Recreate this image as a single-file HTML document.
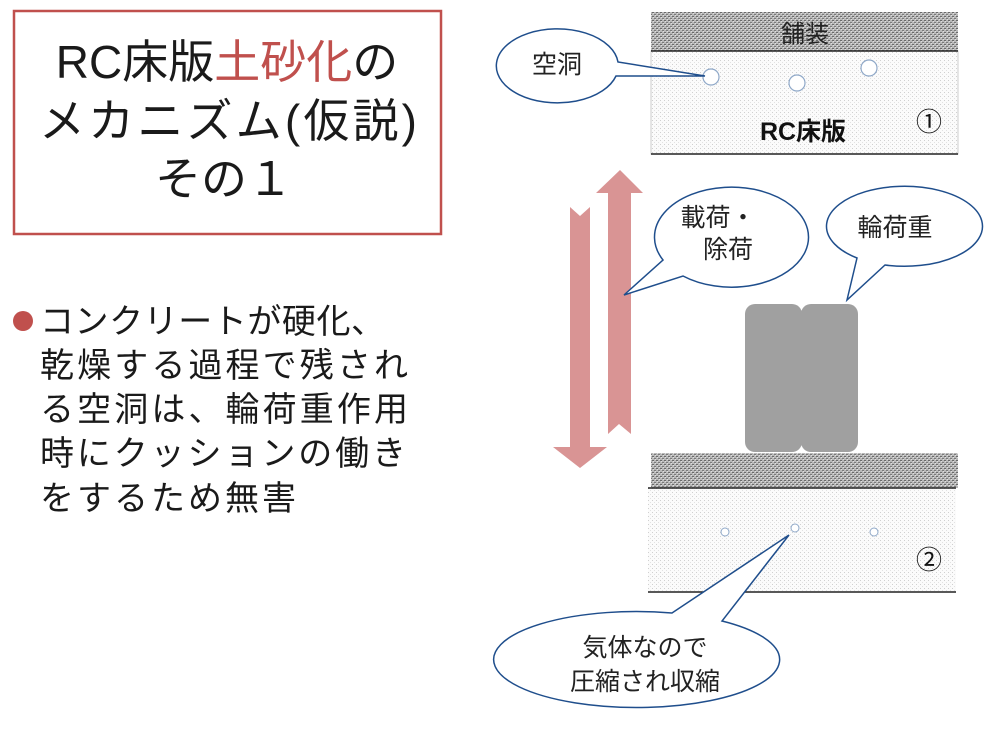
<!DOCTYPE html>
<html><head><meta charset="utf-8"><style>
html,body{margin:0;padding:0;background:#fff;}
svg{display:block;}
text{font-family:"Liberation Sans","Noto Sans CJK JP",sans-serif;}
</style></head><body>
<svg width="1000" height="730" viewBox="0 0 1000 730" xmlns="http://www.w3.org/2000/svg">
<defs>
<pattern id="pave" width="4" height="4" patternUnits="userSpaceOnUse">
<rect width="4" height="4" fill="#b8b8b8"/>
<rect x="0" y="0" width="2" height="1" fill="#6a6a6a"/>
<rect x="2" y="2" width="2" height="1" fill="#7a7a7a"/>
<rect x="1" y="1" width="1" height="1" fill="#e0e0e0"/>
<rect x="3" y="3" width="1" height="1" fill="#e0e0e0"/>
</pattern>
<pattern id="slab" width="4" height="4" patternUnits="userSpaceOnUse">
<rect width="4" height="4" fill="#fbfbfb"/>
<rect x="0" y="0" width="1" height="1" fill="#d0d0d0"/>
<rect x="2" y="2" width="1" height="1" fill="#e2e2e2"/>
</pattern>
</defs>

<rect x="14" y="11" width="427" height="223" fill="#fff" stroke="#c0504d" stroke-width="2.5"/>
<text x="227" y="78" font-size="46" text-anchor="middle" fill="#1a1a1a">RC床版<tspan fill="#c0504d">土砂化</tspan>の</text>
<text x="228" y="137" font-size="46" text-anchor="middle" fill="#1a1a1a" textLength="378">メカニズム(仮説)</text>
<text x="224" y="195" font-size="46" text-anchor="middle" fill="#1a1a1a">その１</text>

<circle cx="23" cy="321" r="10" fill="#c0504d"/>
<g font-size="34" fill="#1a1a1a">
<text x="40" y="333" textLength="345">コンクリートが硬化、</text>
<text x="40" y="377" textLength="368">乾燥する過程で残され</text>
<text x="40" y="421" textLength="368">る空洞は、輪荷重作用</text>
<text x="40" y="465" textLength="366">時にクッションの働き</text>
<text x="40" y="510" textLength="256">をするため無害</text>
</g>

<rect x="651" y="12" width="307" height="39" fill="url(#pave)"/>
<rect x="651" y="51" width="307" height="103" fill="url(#slab)" stroke="#ccc" stroke-width="1"/>
<line x1="651" y1="51" x2="958" y2="51" stroke="#222" stroke-width="1.5"/>
<line x1="651" y1="154" x2="958" y2="154" stroke="#222" stroke-width="1.5"/>
<text x="805" y="42" font-size="24" text-anchor="middle" fill="#222">舗装</text>
<text x="803" y="140" font-size="25" text-anchor="middle" fill="#111" font-weight="bold">RC床版</text>
<text x="929" y="131" font-size="26" text-anchor="middle" fill="#111">①</text>
<circle cx="711" cy="77" r="8" fill="#fff" stroke="#8fa8c8" stroke-width="1.2"/>
<circle cx="797" cy="83" r="8" fill="#fff" stroke="#8fa8c8" stroke-width="1.2"/>
<circle cx="869" cy="68" r="8" fill="#fff" stroke="#8fa8c8" stroke-width="1.2"/>

<path d="M 618 62 A 61 37 0 1 0 616 76 L 705 76 Z" fill="#fff" stroke="#1f4e8c" stroke-width="1.5"/>
<text x="557" y="73" font-size="25" text-anchor="middle" fill="#222">空洞</text>

<polygon points="570,207 580,216 590,207 590,447 607,447 580,468 553,447 570,447" fill="#d99494"/>
<polygon points="608,434 619,424 631,434 631,193 643,193 620,170 596,193 608,193" fill="#d99494"/>

<path d="M 683 276 A 77 50 0 1 0 663 260 L 624 295 Z" fill="#fff" stroke="#1f4e8c" stroke-width="1.5"/>
<text x="718" y="226" font-size="25" fill="#222" text-anchor="middle">載荷・</text>
<text x="728" y="258" font-size="25" fill="#222" text-anchor="middle">除荷</text>

<path d="M 885 265 A 78 40 0 1 0 857 258 L 847 300 Z" fill="#fff" stroke="#1f4e8c" stroke-width="1.5"/>
<text x="895" y="236" font-size="25" fill="#222" text-anchor="middle">輪荷重</text>

<rect x="745" y="304" width="57" height="148" rx="10" fill="#a0a0a0"/>
<rect x="801" y="304" width="57" height="148" rx="10" fill="#a0a0a0"/>

<rect x="651" y="453" width="307" height="35" fill="url(#pave)"/>
<rect x="648" y="488" width="308" height="104" fill="url(#slab)"/>
<line x1="648" y1="488" x2="956" y2="488" stroke="#222" stroke-width="1.5"/>
<line x1="648" y1="592" x2="956" y2="592" stroke="#222" stroke-width="1.5"/>
<circle cx="725" cy="532" r="4" fill="#fff" stroke="#8fa8c8" stroke-width="1"/>
<circle cx="795" cy="528" r="4" fill="#fff" stroke="#8fa8c8" stroke-width="1"/>
<circle cx="874" cy="532" r="4" fill="#fff" stroke="#8fa8c8" stroke-width="1"/>
<text x="929" y="569" font-size="26" text-anchor="middle" fill="#111">②</text>

<path d="M 722 621 A 143 48 0 1 1 672 613 L 789 535 Z" fill="#fff" stroke="#1f4e8c" stroke-width="1.5"/>
<text x="645" y="656" font-size="25" fill="#222" text-anchor="middle">気体なので</text>
<text x="645" y="690" font-size="25" fill="#222" text-anchor="middle">圧縮され収縮</text>
</svg>
</body></html>
